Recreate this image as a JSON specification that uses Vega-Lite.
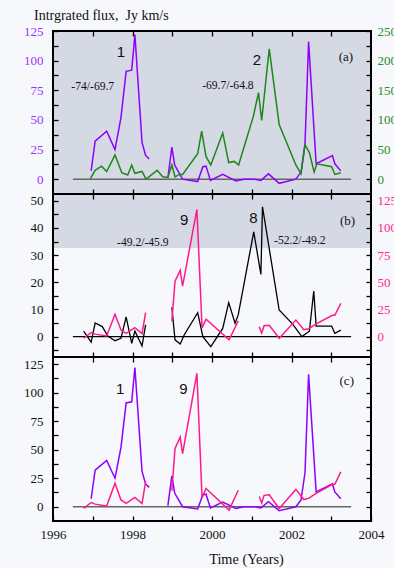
{
  "$schema": "https://vega.github.io/schema/vega-lite/v6.json",
  "background": "#f7f8fb",
  "padding": {"left": 22, "top": 9, "right": 0, "bottom": 0},
  "title": {"text": "Intrgrated flux,\u00a0 Jy km/s", "anchor": "start", "frame": "group", "dx": -19, "offset": 1, "font": "Liberation Serif", "fontSize": 14, "fontWeight": "normal", "color": "#111111"},
  "spacing": 0,
  "bounds": "flush",
  "datasets": {
    "s1": [
      {"t": 1996.96, "v": 7, "seg": "A"}, {"t": 1997.06, "v": 32, "seg": "A"}, {"t": 1997.35, "v": 40.5, "seg": "A"}, {"t": 1997.56, "v": 25, "seg": "A"}, {"t": 1997.71, "v": 52, "seg": "A"}, {"t": 1997.84, "v": 91, "seg": "A"}, {"t": 1997.98, "v": 92, "seg": "A"}, {"t": 1998.06, "v": 122, "seg": "A"}, {"t": 1998.24, "v": 31, "seg": "A"}, {"t": 1998.33, "v": 20, "seg": "A"}, {"t": 1998.42, "v": 17, "seg": "A"},
      {"t": 1998.89, "v": 1, "seg": "B"}, {"t": 1998.99, "v": 27, "seg": "B"}, {"t": 1999.06, "v": 12, "seg": "B"}, {"t": 1999.26, "v": 0, "seg": "B"}, {"t": 1999.64, "v": -2, "seg": "B"}, {"t": 1999.77, "v": 10.5, "seg": "B"}, {"t": 1999.85, "v": 11, "seg": "B"}, {"t": 1999.96, "v": -1, "seg": "B"}, {"t": 2000.27, "v": 4, "seg": "B"}, {"t": 2000.6, "v": -1.5, "seg": "B"}, {"t": 2000.81, "v": 0, "seg": "B"}, {"t": 2001.07, "v": 0, "seg": "B"}, {"t": 2001.23, "v": -1, "seg": "B"}, {"t": 2001.42, "v": 4.5, "seg": "B"}, {"t": 2001.69, "v": -3.5, "seg": "B"}, {"t": 2002.11, "v": 0, "seg": "B"}, {"t": 2002.24, "v": 6, "seg": "B"}, {"t": 2002.34, "v": 30, "seg": "B"}, {"t": 2002.43, "v": 116, "seg": "B"}, {"t": 2002.62, "v": 13, "seg": "B"}, {"t": 2003.03, "v": 20, "seg": "B"}, {"t": 2003.09, "v": 13, "seg": "B"}, {"t": 2003.24, "v": 7, "seg": "B"}
    ],
    "s2": [
      {"t": 1996.94, "v": 1}, {"t": 1997.06, "v": 15}, {"t": 1997.22, "v": 22}, {"t": 1997.35, "v": 13}, {"t": 1997.56, "v": 41}, {"t": 1997.73, "v": 11}, {"t": 1997.88, "v": 7}, {"t": 1997.98, "v": 24}, {"t": 1998.06, "v": 10}, {"t": 1998.24, "v": 13}, {"t": 1998.34, "v": 0}, {"t": 1998.62, "v": 15}, {"t": 1998.76, "v": 4}, {"t": 1998.89, "v": 3}, {"t": 1998.99, "v": 24}, {"t": 1999.07, "v": 4}, {"t": 1999.18, "v": 8}, {"t": 1999.26, "v": 8}, {"t": 1999.64, "v": 43}, {"t": 1999.74, "v": 81}, {"t": 1999.85, "v": 38}, {"t": 1999.97, "v": 24}, {"t": 2000.27, "v": 78}, {"t": 2000.42, "v": 28}, {"t": 2000.56, "v": 30}, {"t": 2000.67, "v": 24}, {"t": 2001.04, "v": 106}, {"t": 2001.17, "v": 146}, {"t": 2001.25, "v": 99}, {"t": 2001.44, "v": 220}, {"t": 2001.69, "v": 92}, {"t": 2002.11, "v": 24}, {"t": 2002.24, "v": 9}, {"t": 2002.34, "v": 58}, {"t": 2002.45, "v": 45}, {"t": 2002.57, "v": 12}, {"t": 2002.64, "v": 26}, {"t": 2003.01, "v": 21}, {"t": 2003.09, "v": 8}, {"t": 2003.24, "v": 11}
    ],
    "s8": [
      {"t": 1996.77, "v": 2, "seg": "A"}, {"t": 1996.96, "v": -2, "seg": "A"}, {"t": 1997.06, "v": 5, "seg": "A"}, {"t": 1997.24, "v": 3.7, "seg": "A"}, {"t": 1997.38, "v": 0.2, "seg": "A"}, {"t": 1997.56, "v": -1.5, "seg": "A"}, {"t": 1997.71, "v": -0.6, "seg": "A"}, {"t": 1997.84, "v": 7.3, "seg": "A"}, {"t": 1997.98, "v": -2.5, "seg": "A"}, {"t": 1998.06, "v": 2, "seg": "A"}, {"t": 1998.24, "v": -3.4, "seg": "A"}, {"t": 1998.33, "v": 4.3, "seg": "A"},
      {"t": 1998.99, "v": 10.8, "seg": "B"}, {"t": 1999.07, "v": -1.2, "seg": "B"}, {"t": 1999.2, "v": -2.7, "seg": "B"}, {"t": 1999.3, "v": 0.6, "seg": "B"}, {"t": 1999.64, "v": 8.8, "seg": "B"}, {"t": 1999.77, "v": 0, "seg": "B"}, {"t": 1999.97, "v": -3.7, "seg": "B"}, {"t": 2000.27, "v": 3, "seg": "B"}, {"t": 2000.42, "v": 12.5, "seg": "B"}, {"t": 2000.58, "v": 4.9, "seg": "B"}, {"t": 2000.66, "v": 8, "seg": "B"}, {"t": 2001.05, "v": 38.6, "seg": "B"}, {"t": 2001.23, "v": 22.9, "seg": "B"}, {"t": 2001.27, "v": 47.8, "seg": "B"}, {"t": 2001.69, "v": 9.8, "seg": "B"}, {"t": 2002.03, "v": 4.6, "seg": "B"}, {"t": 2002.26, "v": 0, "seg": "B"}, {"t": 2002.45, "v": 2, "seg": "B"}, {"t": 2002.56, "v": 16.8, "seg": "B"}, {"t": 2002.62, "v": 3.9, "seg": "B"}, {"t": 2003.01, "v": 3.9, "seg": "B"}, {"t": 2003.09, "v": 1.2, "seg": "B"}, {"t": 2003.24, "v": 2.4, "seg": "B"}
    ],
    "s9": [
      {"t": 1996.77, "v": -1.5, "seg": "A"}, {"t": 1996.96, "v": 3.7, "seg": "A"}, {"t": 1997.06, "v": 2.3, "seg": "A"}, {"t": 1997.35, "v": 0.6, "seg": "A"}, {"t": 1997.56, "v": 20.6, "seg": "A"}, {"t": 1997.71, "v": 6, "seg": "A"}, {"t": 1997.84, "v": 3, "seg": "A"}, {"t": 1998.06, "v": 8.2, "seg": "A"}, {"t": 1998.24, "v": 2.7, "seg": "A"}, {"t": 1998.33, "v": 22, "seg": "A"},
      {"t": 1998.99, "v": 14, "seg": "B"}, {"t": 1999.07, "v": 51, "seg": "B"}, {"t": 1999.2, "v": 61, "seg": "B"}, {"t": 1999.26, "v": 46.5, "seg": "B"}, {"t": 1999.62, "v": 117, "seg": "B"}, {"t": 1999.75, "v": 8, "seg": "B"}, {"t": 1999.85, "v": 16, "seg": "B"}, {"t": 2000.43, "v": -3, "seg": "B"}, {"t": 2000.66, "v": 14.5, "seg": "B"},
      {"t": 2001.19, "v": 9, "seg": "C"}, {"t": 2001.25, "v": 3.3, "seg": "C"}, {"t": 2001.31, "v": 10, "seg": "C"}, {"t": 2001.44, "v": 10.5, "seg": "C"}, {"t": 2001.69, "v": -1.5, "seg": "C"}, {"t": 2002.11, "v": 15.2, "seg": "C"}, {"t": 2002.31, "v": 6.3, "seg": "C"}, {"t": 2002.43, "v": 7.3, "seg": "C"}, {"t": 2002.62, "v": 11.8, "seg": "C"}, {"t": 2003.03, "v": 19.7, "seg": "C"}, {"t": 2003.09, "v": 19.7, "seg": "C"}, {"t": 2003.24, "v": 30.6, "seg": "C"}
    ],
    "zero": [{"t": 1996.5, "t2": 2003.5, "v": 0}],
    "notes": [
      {"panel": "a", "kind": "component", "t": 1997.71, "v": 107.5, "text": "1"},
      {"panel": "a", "kind": "component", "t": 2001.13, "v": 100.6, "text": "2"},
      {"panel": "a", "kind": "range", "t": 1997.0, "v": 78, "text": "-74/-69.7"},
      {"panel": "a", "kind": "range", "t": 2000.4, "v": 79, "text": "-69.7/-64.8"},
      {"panel": "a", "kind": "tag", "t": 2003.37, "v": 103, "text": "(a)"},
      {"panel": "b", "kind": "component", "t": 1999.3, "v": 43, "text": "9"},
      {"panel": "b", "kind": "component", "t": 2001.04, "v": 43.5, "text": "8"},
      {"panel": "b", "kind": "range", "t": 1998.26, "v": 34.5, "text": "-49.2/-45.9"},
      {"panel": "b", "kind": "range", "t": 2002.21, "v": 35.3, "text": "-52.2/-49.2"},
      {"panel": "b", "kind": "tag", "t": 2003.41, "v": 42.5, "text": "(b)"},
      {"panel": "c", "kind": "component", "t": 1997.69, "v": 103, "text": "1"},
      {"panel": "c", "kind": "component", "t": 1999.28, "v": 103.4, "text": "9"},
      {"panel": "c", "kind": "tag", "t": 2003.39, "v": 110, "text": "(c)"}
    ]
  },
  "vconcat": [
    {
      "width": 318, "height": 163,
      "view": {"fill": "#d5d9e3", "stroke": "black", "strokeWidth": 2},
      "resolve": {"scale": {"x": "independent", "y": "independent"}},
      "layer": [
        {
          "encoding": {
            "x": {"field": "t", "type": "quantitative", "scale": {"domain": [1996, 2004], "nice": false, "zero": false}, "axis": {"orient": "bottom", "offset": -5, "values": [1997, 1998, 1999, 2000, 2001, 2002, 2003], "labels": false, "title": null}},
            "y": {"field": "v", "type": "quantitative", "scale": {"domain": [-12.5, 125], "nice": false, "zero": false}, "axis": {"orient": "left", "offset": -5, "values": [0, 12.5, 25, 37.5, 50, 62.5, 75, 87.5, 100, 112.5, 125], "labelExpr": "datum.value % 25 == 0 ? datum.label : ''", "labelOverlap": false, "labelBound": false, "labelColor": "#9933ff", "title": null}}
          },
          "layer": [
            {"data": {"name": "zero"}, "mark": {"type": "rule", "color": "#666666", "strokeWidth": 1.5}, "encoding": {"x2": {"field": "t2"}}},
            {"data": {"name": "s1"}, "mark": {"type": "line", "color": "#8f00ff", "strokeWidth": 1.5}, "encoding": {"detail": {"field": "seg"}}},
            {
              "data": {"name": "notes"},
              "transform": [{"filter": "datum.panel == 'a' && datum.kind == 'component'"}],
              "mark": {"type": "text", "font": "Liberation Sans", "fontSize": 15, "color": "#111111", "align": "center", "baseline": "middle"},
              "encoding": {"text": {"field": "text"}}
            },
            {
              "data": {"name": "notes"},
              "transform": [{"filter": "datum.panel == 'a' && datum.kind == 'range'"}],
              "mark": {"type": "text", "font": "Liberation Serif", "fontSize": 11.6, "color": "#111111", "align": "center", "baseline": "middle"},
              "encoding": {"text": {"field": "text"}}
            },
            {
              "data": {"name": "notes"},
              "transform": [{"filter": "datum.panel == 'a' && datum.kind == 'tag'"}],
              "mark": {"type": "text", "font": "Liberation Serif", "fontSize": 13, "color": "#111111", "align": "center", "baseline": "middle"},
              "encoding": {"text": {"field": "text"}}
            }
          ]
        },
        {
          "data": {"name": "s2"},
          "mark": {"type": "line", "color": "#1e861e", "strokeWidth": 1.5},
          "encoding": {
            "x": {"field": "t", "type": "quantitative", "scale": {"domain": [1996, 2004], "nice": false, "zero": false}, "axis": {"orient": "top", "offset": -5, "values": [1997, 1998, 1999, 2000, 2001, 2002, 2003], "labels": false, "title": null}},
            "y": {"field": "v", "type": "quantitative", "scale": {"domain": [-25, 250], "nice": false, "zero": false}, "axis": {"orient": "right", "offset": -5, "values": [0, 25, 50, 75, 100, 125, 150, 175, 200, 225, 250], "labelExpr": "datum.value % 50 == 0 ? datum.label : ''", "labelOverlap": false, "labelBound": false, "labelColor": "#2a8c2a", "labelPadding": 6, "title": null}}
          }
        }
      ]
    },
    {
      "width": 318, "height": 163,
      "view": {"fill": {"gradient": "linear", "x1": 0, "y1": 0, "x2": 0, "y2": 1, "stops": [{"offset": 0, "color": "#d5d9e3"}, {"offset": 0.33, "color": "#d5d9e3"}, {"offset": 0.332, "color": "#f7f8fb"}, {"offset": 1, "color": "#f7f8fb"}]}, "stroke": "black", "strokeWidth": 2},
      "resolve": {"scale": {"x": "independent", "y": "independent"}},
      "layer": [
        {
          "encoding": {
            "x": {"field": "t", "type": "quantitative", "scale": {"domain": [1996, 2004], "nice": false, "zero": false}, "axis": {"orient": "bottom", "offset": -5, "values": [1997, 1998, 1999, 2000, 2001, 2002, 2003], "labels": false, "title": null}},
            "y": {"field": "v", "type": "quantitative", "scale": {"domain": [-7.5, 52.5], "nice": false, "zero": false}, "axis": {"orient": "left", "offset": -5, "values": [-5, 0, 5, 10, 15, 20, 25, 30, 35, 40, 45, 50], "labelExpr": "datum.value % 10 == 0 && datum.value >= 0 ? datum.label : ''", "labelOverlap": false, "labelBound": false, "labelColor": "#111111", "title": null}}
          },
          "layer": [
            {"data": {"name": "zero"}, "mark": {"type": "rule", "color": "#000000", "strokeWidth": 1.3}, "encoding": {"x2": {"field": "t2"}}},
            {"data": {"name": "s8"}, "mark": {"type": "line", "color": "#000000", "strokeWidth": 1.3}, "encoding": {"detail": {"field": "seg"}}},
            {
              "data": {"name": "notes"},
              "transform": [{"filter": "datum.panel == 'b' && datum.kind == 'component'"}],
              "mark": {"type": "text", "font": "Liberation Sans", "fontSize": 15, "color": "#111111", "align": "center", "baseline": "middle"},
              "encoding": {"text": {"field": "text"}}
            },
            {
              "data": {"name": "notes"},
              "transform": [{"filter": "datum.panel == 'b' && datum.kind == 'range'"}],
              "mark": {"type": "text", "font": "Liberation Serif", "fontSize": 11.6, "color": "#111111", "align": "center", "baseline": "middle"},
              "encoding": {"text": {"field": "text"}}
            },
            {
              "data": {"name": "notes"},
              "transform": [{"filter": "datum.panel == 'b' && datum.kind == 'tag'"}],
              "mark": {"type": "text", "font": "Liberation Serif", "fontSize": 13, "color": "#111111", "align": "center", "baseline": "middle"},
              "encoding": {"text": {"field": "text"}}
            }
          ]
        },
        {
          "data": {"name": "s9"},
          "mark": {"type": "line", "color": "#ff1a8c", "strokeWidth": 1.5},
          "encoding": {
            "x": {"field": "t", "type": "quantitative", "scale": {"domain": [1996, 2004], "nice": false, "zero": false}, "axis": {"orient": "top", "offset": -5, "values": [1997, 1998, 1999, 2000, 2001, 2002, 2003], "labels": false, "title": null}},
            "y": {"field": "v", "type": "quantitative", "scale": {"domain": [-18.75, 131.25], "nice": false, "zero": false}, "axis": {"orient": "right", "offset": -5, "values": [-12.5, 0, 12.5, 25, 37.5, 50, 62.5, 75, 87.5, 100, 112.5, 125], "labelExpr": "datum.value % 25 == 0 && datum.value >= 0 ? datum.label : ''", "labelOverlap": false, "labelBound": false, "labelColor": "#ff2a94", "labelPadding": 6, "title": null}},
            "detail": {"field": "seg"}
          }
        }
      ]
    },
    {
      "width": 318, "height": 164,
      "view": {"fill": "#f7f8fb", "stroke": "black", "strokeWidth": 2},
      "resolve": {"scale": {"x": "independent", "y": "independent"}},
      "layer": [
        {
          "encoding": {
            "x": {"field": "t", "type": "quantitative", "scale": {"domain": [1996, 2004], "nice": false, "zero": false}, "axis": {"orient": "bottom", "offset": -5, "values": [1996, 1997, 1998, 1999, 2000, 2001, 2002, 2003, 2004], "format": "d", "labelExpr": "datum.value % 2 == 0 ? datum.label : ''", "labelOverlap": false, "labelBound": false, "labelFlush": false, "labelPadding": 7, "title": "Time (Years)", "titleFont": "Liberation Serif", "titleFontSize": 14.3, "titleFontWeight": "normal", "titleX": 193, "titlePadding": 11}},
            "y": {"field": "v", "type": "quantitative", "scale": {"domain": [-12.5, 131.25], "nice": false, "zero": false}, "axis": {"orient": "left", "offset": -5, "values": [0, 12.5, 25, 37.5, 50, 62.5, 75, 87.5, 100, 112.5, 125], "labelExpr": "datum.value % 25 == 0 ? datum.label : ''", "labelOverlap": false, "labelBound": false, "labelColor": "#111111", "title": null}}
          },
          "layer": [
            {"data": {"name": "zero"}, "mark": {"type": "rule", "color": "#666666", "strokeWidth": 1.5}, "encoding": {"x2": {"field": "t2"}}},
            {"data": {"name": "s1"}, "mark": {"type": "line", "color": "#8f00ff", "strokeWidth": 1.5}, "encoding": {"detail": {"field": "seg"}}},
            {
              "data": {"name": "notes"},
              "transform": [{"filter": "datum.panel == 'c' && datum.kind == 'component'"}],
              "mark": {"type": "text", "font": "Liberation Sans", "fontSize": 15, "color": "#111111", "align": "center", "baseline": "middle"},
              "encoding": {"text": {"field": "text"}}
            },
            {
              "data": {"name": "notes"},
              "transform": [{"filter": "datum.panel == 'c' && datum.kind == 'tag'"}],
              "mark": {"type": "text", "font": "Liberation Serif", "fontSize": 13, "color": "#111111", "align": "center", "baseline": "middle"},
              "encoding": {"text": {"field": "text"}}
            }
          ]
        },
        {
          "data": {"name": "s9"},
          "mark": {"type": "line", "color": "#ff1a8c", "strokeWidth": 1.5},
          "encoding": {
            "x": {"field": "t", "type": "quantitative", "scale": {"domain": [1996, 2004], "nice": false, "zero": false}, "axis": {"orient": "top", "offset": -5, "values": [1997, 1998, 1999, 2000, 2001, 2002, 2003], "labels": false, "title": null}},
            "y": {"field": "v", "type": "quantitative", "scale": {"domain": [-12.5, 131.25], "nice": false, "zero": false}, "axis": {"orient": "right", "offset": -5, "values": [0, 12.5, 25, 37.5, 50, 62.5, 75, 87.5, 100, 112.5, 125], "labels": false, "title": null}},
            "detail": {"field": "seg"}
          }
        }
      ]
    }
  ],
  "config": {
    "view": {"stroke": "black", "strokeWidth": 2},
    "axis": {"domain": false, "grid": false, "tickColor": "black", "tickWidth": 1.3, "tickSize": 5, "minExtent": 0, "labelFont": "Liberation Serif", "labelFontSize": 13, "labelColor": "#111111", "labelPadding": 10, "labelFlush": false, "labelOverlap": false, "labelBound": false, "titleFont": "Liberation Serif", "titleFontWeight": "normal", "titleColor": "#111111"}
  }
}
